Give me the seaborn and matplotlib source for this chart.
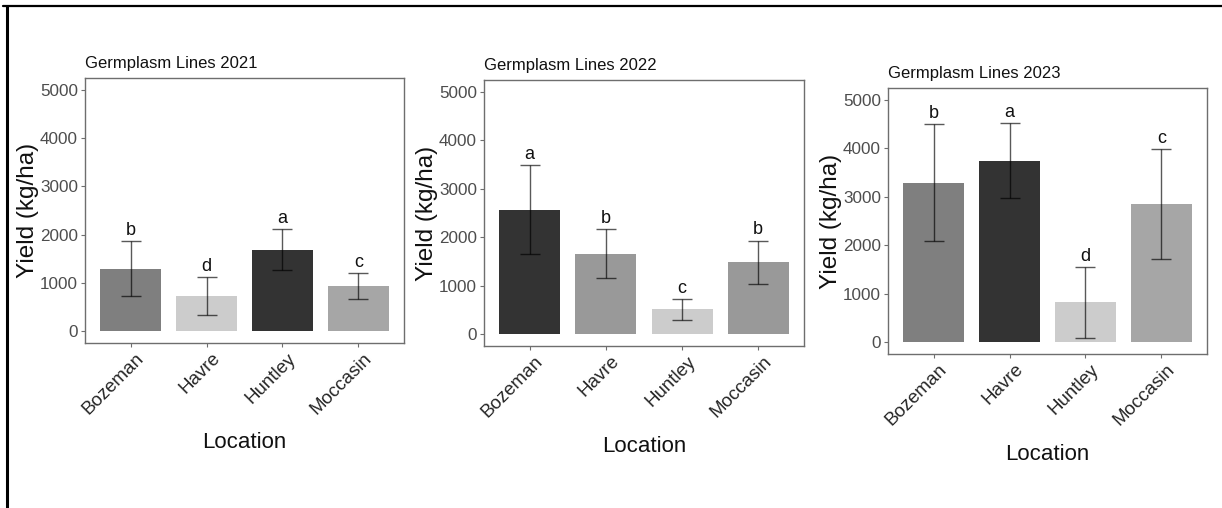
import matplotlib
matplotlib.use("Agg")
import matplotlib.pyplot as plt
from matplotlib.lines import Line2D
from matplotlib.transforms import ScaledTranslation
import seaborn as sns
import pandas as pd

sns.set_style("white")
plt.rcParams['font.family'] = ['Liberation Sans', 'DejaVu Sans']

locations = ["Bozeman", "Havre", "Huntley", "Moccasin"]

titles = ["Germplasm Lines 2021", "Germplasm Lines 2022", "Germplasm Lines 2023"]

yield_2021 = [1295, 725, 1690, 935]
err_2021 = [570, 390, 420, 270]
letters_2021 = ["b", "d", "a", "c"]
colors_2021 = ["#7F7F7F", "#CCCCCC", "#333333", "#A6A6A6"]

yield_2022 = [2570, 1660, 505, 1480]
err_2022 = [915, 505, 215, 450]
letters_2022 = ["a", "b", "c", "b"]
colors_2022 = ["#333333", "#999999", "#CCCCCC", "#999999"]

yield_2023 = [3290, 3750, 820, 2845]
err_2023 = [1210, 780, 730, 1140]
letters_2023 = ["b", "a", "d", "c"]
colors_2023 = ["#7F7F7F", "#333333", "#CCCCCC", "#A6A6A6"]

y_ticks = [0, 1000, 2000, 3000, 4000, 5000]

panels = [
    (yield_2021, err_2021, letters_2021, colors_2021),
    (yield_2022, err_2022, letters_2022, colors_2022),
    (yield_2023, err_2023, letters_2023, colors_2023),
]

W, H = 1222, 508
fig = plt.figure(figsize=(W / 100, H / 100), dpi=100)

# axes boxes in pixels: (left, top, right, bottom)
boxes = [(85, 78, 404, 343), (484, 80, 804, 346), (888, 88, 1207, 354)]

for (vals, errs, lets, cols), title, (l, t, r, b) in zip(panels, titles, boxes):
    ax = fig.add_axes([l / W, 1 - b / H, (r - l) / W, (b - t) / H])
    df = pd.DataFrame({"Location": locations, "Yield": vals})
    sns.barplot(data=df, x="Location", y="Yield", hue="Location",
                palette=cols, legend=False, width=0.8, errorbar=None,
                saturation=1, ax=ax, edgecolor="none")
    xs = list(range(len(locations)))
    ax.errorbar(xs, vals, yerr=errs, fmt="none", ecolor="black", alpha=0.65,
                elinewidth=1.0, capsize=7, capthick=1.0)
    for x, v, e, letter in zip(xs, vals, errs, lets):
        ax.annotate(letter, (x, v + e), xytext=(0, 4.5), textcoords="offset points",
                    ha="center", va="baseline", fontsize=13, color="#111111")
    ax.set_xlim(-0.6, 3.6)
    ax.set_ylim(-250, 5250)
    ax.set_yticks(y_ticks)
    ax.set_yticklabels([str(v) for v in y_ticks])
    for s in ax.spines.values():
        s.set_color("#6E6E6E")
        s.set_linewidth(1.0)
    ax.tick_params(axis="both", which="both", length=3, width=0.8, color="#6E6E6E",
                   left=True, bottom=True, direction="out")
    ax.tick_params(axis="y", labelsize=12.3, labelcolor="#4D4D4D", pad=2)
    ax.tick_params(axis="x", labelsize=13.5, labelcolor="#262626", pad=2)
    shift = ScaledTranslation(0.05, 0.0, fig.dpi_scale_trans)
    for lab in ax.get_xticklabels():
        lab.set_rotation(45)
        lab.set_ha("right")
        lab.set_va("top")
        lab.set_rotation_mode("anchor")
        lab.set_transform(lab.get_transform() + shift)
    ax.set_title(title, loc="left", fontsize=12, pad=7, color="#111111")
    ax.set_ylabel("Yield (kg/ha)", fontsize=17.5, color="#111111", labelpad=1)
    ax.set_xlabel("Location", fontsize=16, color="#111111")
    ax.xaxis.set_label_coords(0.5, -100 / (b - t))
    ax.xaxis.label.set_va("center")

# outer frame lines (top and left)
fig.add_artist(Line2D([3 / W, 1], [1 - 6 / H, 1 - 6 / H], transform=fig.transFigure,
                      color="black", lw=1.6))
fig.add_artist(Line2D([7.5 / W, 7.5 / W], [1 - 6 / H, 0], transform=fig.transFigure,
                      color="black", lw=2.2))

fig.savefig("out.png", dpi=100, facecolor="white")
